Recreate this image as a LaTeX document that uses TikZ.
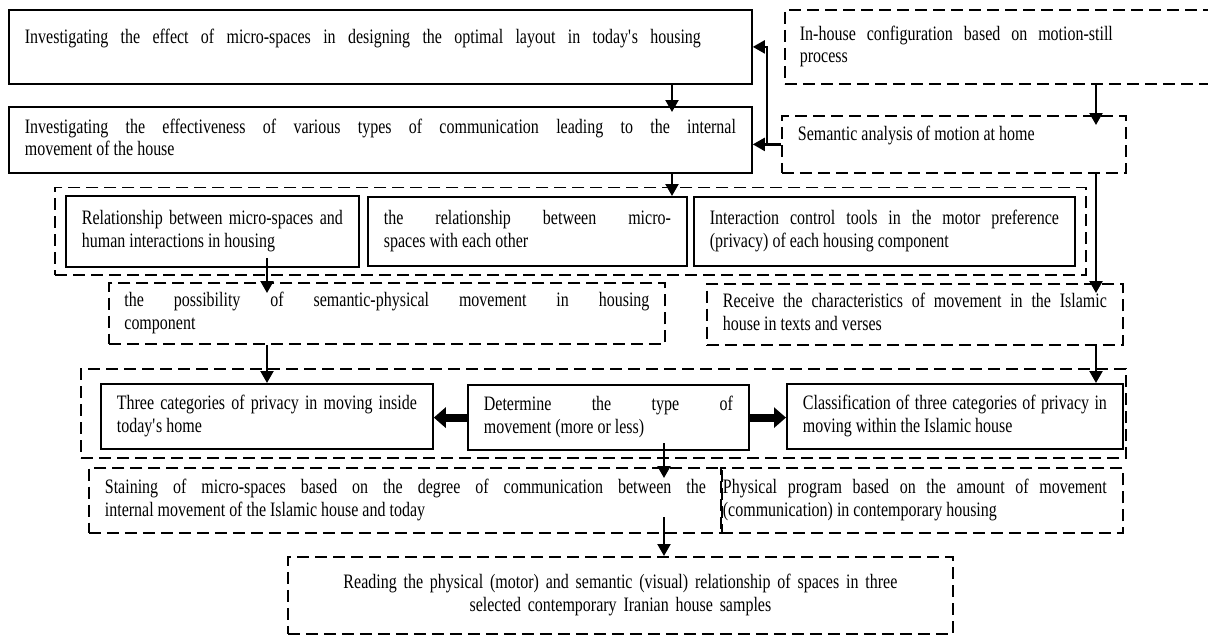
\documentclass[tikz,border=0pt]{standalone}
\usepackage{fontspec}
\setmainfont{Liberation Serif}[FakeStretch=0.78]
\usepackage{tikz}
\usetikzlibrary{arrows.meta,calc,fit}

\begin{document}
\begin{tikzpicture}[
    x=1pt, y=-1pt,
    font=\fontsize{20.5}{22.7}\selectfont,
    box/.style={draw, line width=1.8pt, anchor=north west, align=justify, inner xsep=16pt, inner ysep=10pt,
        execute at begin node={\noindent\strut}, execute at end node=\strut},
    dbox/.style={box, dash pattern=on 12pt off 6pt},
    rskip/.style={execute at begin node={\rightskip=#1\relax\noindent\strut}},
    group/.style={draw, line width=1.8pt, dash pattern=on 12pt off 6pt, inner xsep=10pt, inner ysep=7.5pt},
    edge/.style={-{Triangle[length=12pt,width=13pt]}, line width=2.2pt},
    fatedge/.style={-{Triangle[length=12pt,width=20pt]}, line width=8pt}
]
\useasboundingbox (0,0) rectangle (1208,635);

\node[box, text width=711pt, text height=24pt, text depth=30pt,
    execute at begin node={\rightskip=35pt\relax\parfillskip=0pt\noindent\strut}] (effect) at (8,9) {Investigating the effect of micro-spaces in designing the optimal layout in today\textquotesingle s housing};
\node[box, text width=711pt, minimum height=66pt] (communication) at (8,106) {Investigating the effectiveness of various types of communication leading to the internal\linebreak movement of the house};
\node[dbox, text width=400pt, inner xsep=15pt, minimum height=74pt, rskip=87pt] (config) at (784,9) {In-house configuration based on motion-still\linebreak process};
\node[dbox, text width=312pt, text height=15pt, text depth=22pt] (semantic) at (781,115) {Semantic analysis of motion at home};

\node[box, text width=261pt, minimum height=71pt] (humanrel) at (65,195) {Relationship between micro-spaces and\linebreak human interactions in housing};
\node[box, text width=287pt, minimum height=69pt] (microrel) at (367,196) {the relationship between micro-\linebreak spaces with each other};
\node[box, text width=349pt, minimum height=69pt] (control) at (693,196) {Interaction control tools in the motor preference\linebreak (privacy) of each housing component};
\node[group, fit=(humanrel)(control)] (relgroup) {};

\node[dbox, text width=525pt, inner xsep=15.5pt, inner ysep=8pt, minimum height=61pt] (possibility) at (108,282) {the possibility of semantic-physical movement in housing\linebreak component};
\node[dbox, text width=384pt, inner ysep=8pt, minimum height=60pt] (receive) at (706,283) {Receive the characteristics of movement in the Islamic\linebreak house in texts and verses};

\node[box, text width=300pt, minimum height=65pt] (today) at (100,383) {Three categories of privacy in moving inside\linebreak today\textquotesingle s home};
\node[box, text width=249pt, minimum height=64pt] (movetype) at (467,384) {Determine the type of\linebreak movement (more or less)};
\node[box, text width=304pt, minimum height=65pt] (islamic) at (786,383) {Classification of three categories of privacy in\linebreak moving within the Islamic house};
\node[group, fit=(today)(islamic), inner xsep=10.5pt, inner ysep=11pt, xshift=-8.5pt, yshift=3pt] (privgroup) {};

\node[dbox, text width=601pt, minimum height=65pt] (staining) at (88,467) {Staining of micro-spaces based on the degree of communication between the\linebreak internal movement of the Islamic house and today};
\node[dbox, text width=398pt, inner xsep=2pt, minimum height=65pt, rskip=14pt] (program) at (720,467) {Physical program based on the amount of movement\linebreak (communication) in contemporary housing};
\node[dbox, align=center, text width=633pt, minimum height=77pt] (reading) at (287,556) {Reading the physical (motor) and semantic (visual) relationship of spaces in three\\ selected contemporary Iranian house samples};

\coordinate (colmid) at (672,0);
\coordinate (colright) at (1096,0);
\coordinate (colleft) at (267,0);
\coordinate (collow) at (664,0);
\coordinate (colup) at (767,0);

\draw[edge] (effect.south -| colmid) -- ($(communication.north -| colmid)+(0,6)$);
\draw[edge] (communication.south -| colmid) -- (microrel.north -| colmid);
\draw[edge] (config.south -| colright) -- ($(semantic.north -| colright)+(0,10)$);
\draw[edge] (semantic.west) -- (semantic.west -| communication.east);
\draw[edge] (semantic.west -| colup) |- (effect.east);
\draw[edge] (semantic.south -| colright) -- ($(receive.north -| colright)+(0,10)$);
\draw[edge] ($(humanrel.south -| colleft)+(0,-10)$) -- ($(possibility.north -| colleft)+(0,11)$);
\draw[edge] (possibility.south -| colleft) -- (today.north -| colleft);
\draw[edge] (receive.south -| colright) -- (islamic.north -| colright);
\draw[fatedge] (movetype.west) -- (movetype.west -| today.east);
\draw[fatedge] (movetype.east) -- (movetype.east -| islamic.west);
\draw[edge] ($(movetype.south -| collow)+(0,-8)$) -- ($(staining.north -| collow)+(0,11)$);
\draw[edge] ($(staining.south -| collow)+(0,-17)$) -- (reading.north -| collow);
\end{tikzpicture}
\end{document}
